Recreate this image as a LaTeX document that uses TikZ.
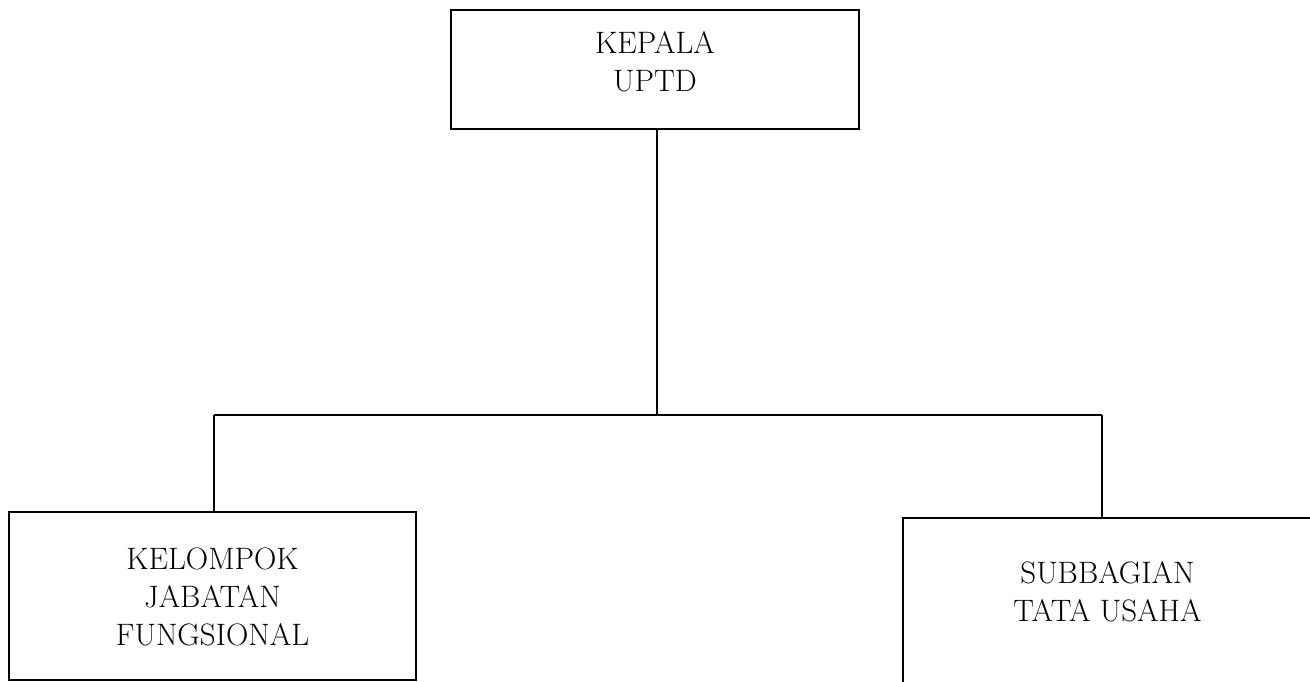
\documentclass[tikz,border=0pt]{standalone}
\begin{document}
\begin{tikzpicture}[x=1pt,y=-1pt,
  box/.style={draw, line width=1.5pt, inner sep=0pt},
  lbl/.style={align=center, inner sep=0pt, font=\fontsize{31}{38}\selectfont},
  conn/.style={line width=1.5pt}]
\useasboundingbox (0,0) rectangle (1310,681);
\clip (0,0) rectangle (1310,681);
% boxes
\node[box, minimum width=408pt, minimum height=119pt] (kepala) at (655,69.5) {};
\node[lbl] (kepalaT) at (655,62) {KEPALA\\UPTD};
\node[box, minimum width=407pt, minimum height=168pt] (kjf) at (212.5,596) {};
\node[lbl] (kjfT) at (212.5,597) {KELOMPOK\\JABATAN\\FUNGSIONAL};
\node[box, minimum width=417pt, minimum height=200pt] (sub) at (1111.5,618) {};
\node[lbl] (subT) at (1107.5,592) {SUBBAGIAN\\TATA USAHA};
% connectors
\coordinate (j) at (657,415);
\coordinate (jl) at (214,415);
\coordinate (jr) at (1102,415);
\draw[conn] (j |- kepala.south) -- (j);
\draw[conn] (jl) -- (jr);
\draw[conn] (jl) -- (jl |- kjf.north);
\draw[conn] (jr) -- (jr |- sub.north);
\end{tikzpicture}
\end{document}
